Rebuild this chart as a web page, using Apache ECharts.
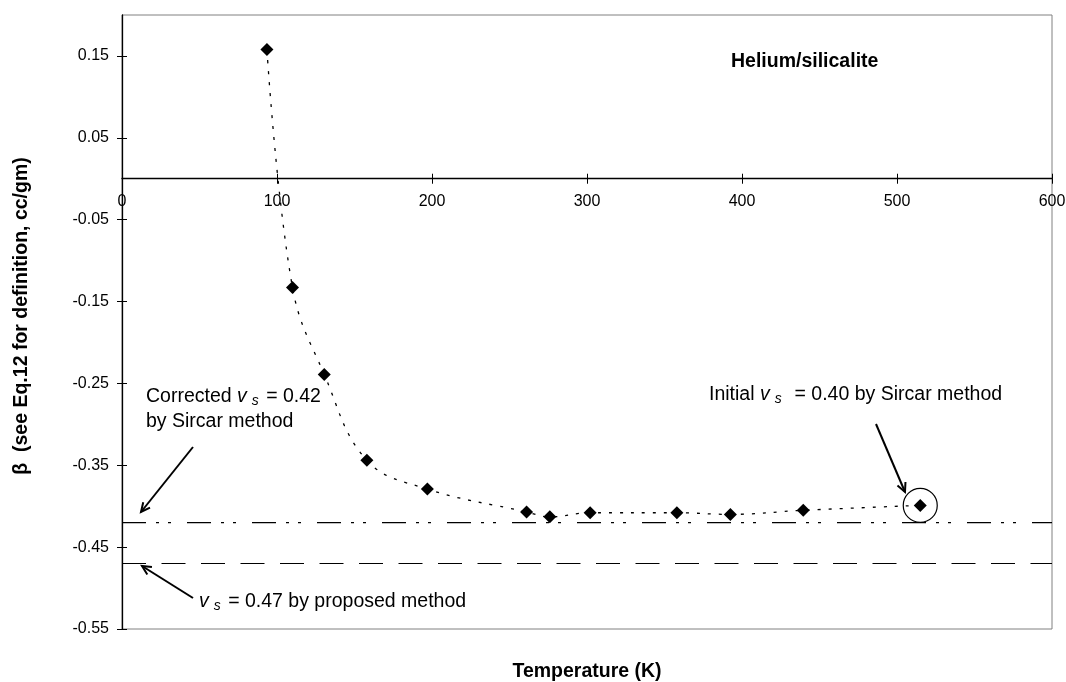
<!DOCTYPE html>
<html>
<head>
<meta charset="utf-8">
<title>Helium/silicalite</title>
<script src="https://cdn.jsdelivr.net/npm/echarts@6/dist/echarts.min.js"></script>
<style>
  html, body { margin: 0; padding: 0; background: #fff; }
  #chart { width: 1066px; height: 682px; }
</style>
</head>
<body>
<div id="chart"></div>
<script>
// measured points: temperature (K) vs beta (cc/gm)
const temps = [93.5, 110, 130.5, 158, 197, 261, 276, 302, 358, 392.5, 439.5, 515];
const betas = [0.158, -0.133, -0.239, -0.344, -0.379, -0.407, -0.413, -0.408, -0.408, -0.410, -0.405, -0.399];
// reference levels
const correctedVs = -0.42;
const proposedVs = -0.47;
// axes
const xTicks = [0, 100, 200, 300, 400, 500, 600];
const yTicks = [-0.55, -0.45, -0.35, -0.25, -0.15, -0.05, 0.05, 0.15];
const yMax = 0.2;

const FONT = "'Liberation Sans', Arial, sans-serif";
const xMin = xTicks[0], xMax = xTicks[xTicks.length - 1];

let chart = echarts.init(document.getElementById("chart"));

function xAxisDef(inside) {
  return {
    type: "value",
    min: xMin,
    max: xMax,
    interval: xTicks[1] - xTicks[0],
    position: "bottom",
    axisLine: { show: !inside, onZero: true, onZeroAxisIndex: 0, lineStyle: { color: "#000", width: 1.3 } },
    axisTick: { show: true, inside: inside, length: 5, lineStyle: { color: "#000", width: 1 } },
    // labels are drawn under the zero line below (graphic)
    axisLabel: { show: false },
    splitLine: { show: false }
  };
}

function yAxisDef(inside) {
  return {
    type: "value",
    min: yTicks[0],
    max: yMax,
    position: "left",
    axisLine: { show: !inside, onZero: false, lineStyle: { color: "#000", width: 1.3 } },
    axisTick: { show: true, inside: inside, length: 5, customValues: yTicks, lineStyle: { color: "#000", width: 1 } },
    axisLabel: {
      show: !inside,
      customValues: yTicks,
      margin: 13,
      color: "#000",
      fontSize: 16,
      fontFamily: FONT,
      formatter: function(v) { return v.toFixed(2); }
    },
    splitLine: { show: false }
  };
}

let option = {
  animation: false,
  backgroundColor: "#fff",
  grid: { left: 122, right: 14, top: 15, bottom: 53, show: true, borderColor: "#808080", borderWidth: 1 },
  xAxis: [xAxisDef(false), xAxisDef(true)],
  yAxis: [yAxisDef(false), yAxisDef(true)],
  series: [
    {
      name: "corrected",
      type: "line",
      data: [[xMin, correctedVs], [xMax, correctedVs]],
      symbol: "none",
      lineStyle: { color: "#000", width: 1.2, type: [24, 10, 3, 9, 3, 16] },
      z: 1
    },
    {
      name: "proposed",
      type: "line",
      data: [[xMin, proposedVs], [xMax, proposedVs]],
      symbol: "none",
      lineStyle: { color: "#000", width: 1.2, type: [24, 15.5] },
      z: 1
    },
    {
      name: "beta",
      type: "line",
      data: temps.map(function(t, i) { return [t, betas[i]]; }),
      smooth: 0.4,
      symbol: "diamond",
      symbolSize: 13,
      itemStyle: { color: "#000" },
      lineStyle: { color: "#000", width: 1.3, type: [3, 8] },
      z: 3
    }
  ]
};

chart.setOption(option);

function arrow(x1, y1, x2, y2) {
  let a = Math.atan2(y2 - y1, x2 - x1), h = 10, w = 0.45;
  return [
    { type: "line", shape: { x1: x1, y1: y1, x2: x2, y2: y2 }, style: { stroke: "#000", lineWidth: 2 } },
    {
      type: "polyline",
      shape: { points: [
        [x2 - h * Math.cos(a - w), y2 - h * Math.sin(a - w)],
        [x2, y2],
        [x2 - h * Math.cos(a + w), y2 - h * Math.sin(a + w)]
      ] },
      style: { stroke: "#000", lineWidth: 2, fill: null }
    }
  ];
}

let rich = {
  i: { fontStyle: "italic", fontSize: 19.5, fontFamily: FONT, lineHeight: 25 },
  s: { fontStyle: "italic", fontSize: 14, fontFamily: FONT, height: 16, verticalAlign: "bottom", padding: [0, 2, 0, 5] }
};

function note(x, top, text) {
  return {
    type: "text",
    style: { x: x, y: top, text: text, rich: rich, fill: "#000", fontSize: 19.5, fontFamily: FONT, lineHeight: 25, align: "left", verticalAlign: "top" }
  };
}

// x tick labels sit just under the zero line
let xLabels = xTicks.map(function(t) {
  let p = chart.convertToPixel({ gridIndex: 0 }, [t, 0]);
  return { type: "text", style: { x: p[0], y: p[1] + 15, text: String(t), fill: "#000", fontSize: 16, fontFamily: FONT, align: "center", verticalAlign: "top" } };
});

let last = chart.convertToPixel({ gridIndex: 0 }, [temps[temps.length - 1], betas[betas.length - 1]]);

let graphics = [
  { type: "text", style: { x: 731, y: 52, text: "Helium/silicalite", fill: "#000", fontSize: 19.5, fontWeight: "bold", fontFamily: FONT, verticalAlign: "top" } },
  { type: "text", x: 22, y: 316, rotation: Math.PI / 2,
    style: { x: 0, y: 0, text: "\u03b2  (see Eq.12 for definition, cc/gm)", fill: "#000", fontSize: 19.5, fontWeight: "bold", fontFamily: FONT, align: "center", verticalAlign: "middle" } },
  { type: "text", style: { x: 587, y: 672, text: "Temperature (K)", fill: "#000", fontSize: 19.5, fontWeight: "bold", fontFamily: FONT, align: "center", verticalAlign: "middle" } },
  note(146, 384, "Corrected {i|v}{s|s} = 0.42\nby Sircar method"),
  note(199, 589, "{i|v}{s|s} = 0.47 by proposed method"),
  note(709, 382, "Initial {i|v}{s|s}  = 0.40 by Sircar method"),
  { type: "circle", shape: { cx: last[0], cy: last[1], r: 17 }, style: { stroke: "#000", lineWidth: 1.2, fill: null } }
].concat(xLabels, arrow(193, 447, 141, 512), arrow(193, 598, 142, 566), arrow(876, 424, 905, 492));

chart.setOption({ graphic: graphics });

window.addEventListener("resize", function() {
  chart.resize();
});
</script>
</body>
</html>
